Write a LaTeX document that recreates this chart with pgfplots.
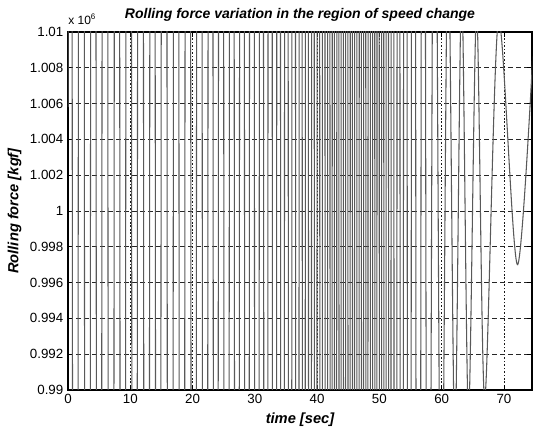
\documentclass[border=0pt]{standalone}
\usepackage{fontspec}
\setmainfont{Liberation Sans}
\usepackage{pgfplots}
\pgfplotsset{compat=1.18}
\begin{document}
\begin{tikzpicture}
\useasboundingbox (-51pt,-29.25pt) rectangle (348.75pt,292.5pt);
\begin{axis}[
  name=ax,
  scale only axis, width=348pt, height=268.5pt,
  xmin=0, xmax=74.5, ymin=990000, ymax=1010000,
  xtick={0,10,20,30,40,50,60,70},
  ytick={990000,992000,994000,996000,998000,1000000,1002000,1004000,1006000,1008000,1010000},
  yticklabels={0.99,0.992,0.994,0.996,0.998,1,1.002,1.004,1.006,1.008,1.01},
  scaled y ticks=false,
  /pgf/number format/assume math mode=true,
  tick label style={font=\fontsize{10}{12}\selectfont},
  axis line style={black, line width=0.8pt},
  tick style={black, line width=0.6pt},
  tick align=inside, major tick length=4pt,
  grid=major,
  x grid style={black!90, line width=0.7pt, dash pattern=on 1.2pt off 1.4pt},
  y grid style={black!85, line width=0.5pt, dash pattern=on 3.5pt off 2.5pt},
  every axis title shift=0pt,
  title={Rolling force variation in the region of speed change},
  every axis title/.style={at={(axis description cs:0.5,1.0475)}, anchor=center, font=\fontsize{10.5}{12}\selectfont\bfseries\itshape},
  xlabel={time [sec]},
  xlabel style={at={(axis description cs:0.5,-0.084)}, anchor=center, font=\fontsize{11}{13}\selectfont\bfseries\itshape},
  ylabel={Rolling force [kgf]},
  ylabel style={at={(axis description cs:-0.115,0.5)}, anchor=center, font=\fontsize{11}{13}\selectfont\bfseries\itshape},
]
\addplot[black!65, line width=0.8pt, smooth, no marks] coordinates {
(0,1005800) (0.3,1130000) (1.2,870000) (2.15,1150000) (3.1,860000)
(4.05,1120000) (5.0,880000) (5.95,1140000) (6.9,855000) (7.85,1125000)
(8.8,875000) (9.75,1130000) (10.7,870000) (11.65,1150000) (12.6,860000)
(13.55,1120000) (14.5,880000) (15.45,1140000) (16.4,855000) (17.35,1125000)
(18.3,875000) (19.25,1130000) (20.2,870000) (21.1,1150000) (21.99,860000)
(22.87,1120000) (23.74,880000) (24.6,1140000) (25.45,855000) (26.29,1125000)
(27.12,875000) (27.94,1130000) (28.75,870000) (29.54,1150000) (30.31,860000)
(31.05,1120000) (31.77,880000) (32.47,1140000) (33.15,855000) (33.81,1125000)
(34.45,875000) (35.07,1130000) (35.67,870000) (36.25,1150000) (36.81,860000)
(37.35,1120000) (37.87,880000) (38.37,1140000) (38.85,855000) (39.32,1125000)
(39.77,875000) (40.21,1130000) (40.64,870000) (41.06,1150000) (41.47,860000)
(41.87,1120000) (42.26,880000) (42.6,1140000) (42.96,855000) (43.32,1125000)
(43.68,875000) (44.04,1130000) (44.4,870000) (44.76,1150000) (45.12,860000)
(45.48,1120000) (45.84,880000) (46.2,1140000) (46.56,855000) (46.92,1125000)
(47.28,875000) (47.64,1130000) (48.0,870000) (48.36,1150000) (48.72,860000)
(49.08,1120000) (49.44,880000) (49.8,1140000) (50.16,855000) (50.52,1125000)
(50.89,875000) (51.27,1130000) (51.67,870000) (52.1,1150000) (52.56,860000)
(53.05,1120000) (53.58,880000) (54.15,1120000) (54.77,890000) (55.45,1100000)
(56.2,910000) (57.0,1060000) (57.8,955000) (58.8,1030000) (59.9,978000)
(61.0,1016000) (62.1,987000) (63.2,1012500) (64.3,988500) (65.6,1011200)
(66.9,989500) (69.1,1010600) (72.2,997000) (75.2,1012500)
};
\end{axis}
\node[anchor=base west, inner sep=0pt, font=\fontsize{9}{10}\selectfont] at ([yshift=5.25pt]ax.north west) {x 10\textsuperscript{6}};
\end{tikzpicture}
\end{document}
